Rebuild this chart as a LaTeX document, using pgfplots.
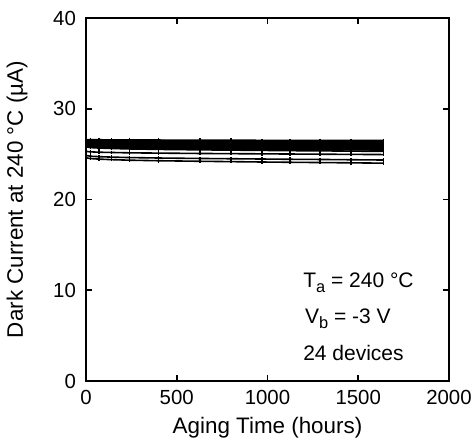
\documentclass[border=0pt]{standalone}
\usepackage{fontspec}
\setmainfont{Liberation Sans}
\usepackage{pgfplots}
\usepackage{pgfplotstable}
\pgfplotsset{compat=1.18}
\newcommand{\sub}[1]{\raisebox{-0.45ex}{\fontsize{8.2}{9}\selectfont #1}}
\pgfplotstableread{
t d1 d2 d3 d4 d5 d6 d7 d8 d9 d10 d11 d12 d13 d14 d15 d16 d17 d18 d19 d20 d21 d22 d23 d24
0 26.60 26.50 26.45 26.40 26.35 26.30 26.30 26.25 26.20 26.20 26.15 26.10 26.10 26.05 26.00 26.00 25.95 25.90 25.85 25.80 25.30 24.85 24.60 26.55
24 26.59 26.49 26.43 26.38 26.33 26.28 26.27 26.22 26.17 26.16 26.11 26.06 26.05 26.00 25.95 25.95 25.90 25.85 25.79 25.72 25.25 24.77 24.51 26.53
70 26.58 26.48 26.41 26.36 26.31 26.26 26.25 26.20 26.15 26.14 26.09 26.04 26.02 25.97 25.92 25.91 25.86 25.81 25.75 25.67 25.21 24.72 24.45 26.51
140 26.57 26.47 26.40 26.35 26.30 26.25 26.23 26.18 26.13 26.11 26.06 26.01 25.99 25.94 25.89 25.88 25.83 25.78 25.71 25.62 25.18 24.67 24.39 26.50
240 26.56 26.46 26.38 26.33 26.28 26.23 26.21 26.16 26.11 26.09 26.04 25.99 25.96 25.91 25.86 25.84 25.79 25.74 25.67 25.57 25.14 24.62 24.33 26.48
400 26.55 26.45 26.37 26.32 26.27 26.22 26.19 26.14 26.09 26.06 26.01 25.96 25.93 25.88 25.83 25.81 25.76 25.71 25.63 25.52 25.11 24.57 24.27 26.47
627 26.54 26.44 26.35 26.30 26.25 26.20 26.17 26.12 26.07 26.04 25.99 25.94 25.90 25.85 25.80 25.77 25.72 25.67 25.59 25.47 25.07 24.52 24.21 26.45
800 26.53 26.43 26.34 26.29 26.24 26.19 26.16 26.11 26.06 26.02 25.97 25.92 25.88 25.83 25.78 25.75 25.70 25.65 25.56 25.44 25.05 24.49 24.17 26.44
970 26.52 26.42 26.33 26.28 26.23 26.18 26.14 26.09 26.04 26.00 25.95 25.90 25.87 25.82 25.77 25.73 25.68 25.63 25.54 25.41 25.03 24.46 24.13 26.43
1124 26.52 26.42 26.33 26.28 26.23 26.18 26.13 26.08 26.03 25.99 25.94 25.89 25.85 25.80 25.75 25.71 25.66 25.61 25.52 25.38 25.01 24.43 24.10 26.43
1289 26.51 26.41 26.32 26.27 26.22 26.17 26.12 26.07 26.02 25.98 25.93 25.88 25.84 25.79 25.74 25.69 25.64 25.59 25.50 25.36 24.99 24.41 24.07 26.42
1460 26.51 26.41 26.31 26.26 26.21 26.16 26.11 26.06 26.01 25.96 25.91 25.86 25.82 25.77 25.72 25.67 25.62 25.57 25.47 25.33 24.97 24.38 24.04 26.41
1640 26.50 26.40 26.30 26.25 26.20 26.15 26.10 26.05 26.00 25.95 25.90 25.85 25.80 25.75 25.70 25.65 25.60 25.55 25.45 25.30 24.95 24.35 24.00 26.40
}\data
\begin{document}
\begin{tikzpicture}
\begin{axis}[
  scale only axis,
  width=181.5pt, height=181.5pt,
  xmin=0, xmax=2000, ymin=0, ymax=40,
  xtick={0,500,1000,1500,2000},
  ytick={0,10,20,30,40},
  tick align=inside,
  major tick length=3pt,
  axis line style={line width=1pt},
  every tick/.style={black, line width=0.8pt},
  tick label style={font=\fontsize{10.2}{12}\selectfont},
  xticklabel style={yshift=-1pt},
  yticklabel style={xshift=-1.5pt},
  label style={font=\fontsize{11.2}{13}\selectfont},
  /pgf/number format/assume math mode=true,
  /pgf/number format/1000 sep={},
  xlabel={Aging Time (hours)},
  ylabel={Dark Current at 240 °C (µA)},
  xlabel style={yshift=0.5pt},
  ylabel style={yshift=6pt},
]
\pgfplotsinvokeforeach{1,...,24}{
  \addplot[black, line width=0.8pt, mark=|, mark size=0.9pt] table[x=t, y=d#1] {\data};
}
\node[anchor=west, inner sep=0pt, font=\fontsize{10.5}{12}\selectfont] at (axis cs:1195,10.8) {T\sub{a} = 240 °C};
\node[anchor=west, inner sep=0pt, font=\fontsize{10.5}{12}\selectfont] at (axis cs:1205,6.9) {V\sub{b} = -3 V};
\node[anchor=west, inner sep=0pt, font=\fontsize{10.5}{12}\selectfont] at (axis cs:1195,3.1) {24 devices};
\end{axis}
\pgfresetboundingbox
\useasboundingbox ([xshift=-43pt,yshift=-32pt]current axis.south west) rectangle ([xshift=11.5pt,yshift=9pt]current axis.north east);
\end{tikzpicture}
\end{document}
